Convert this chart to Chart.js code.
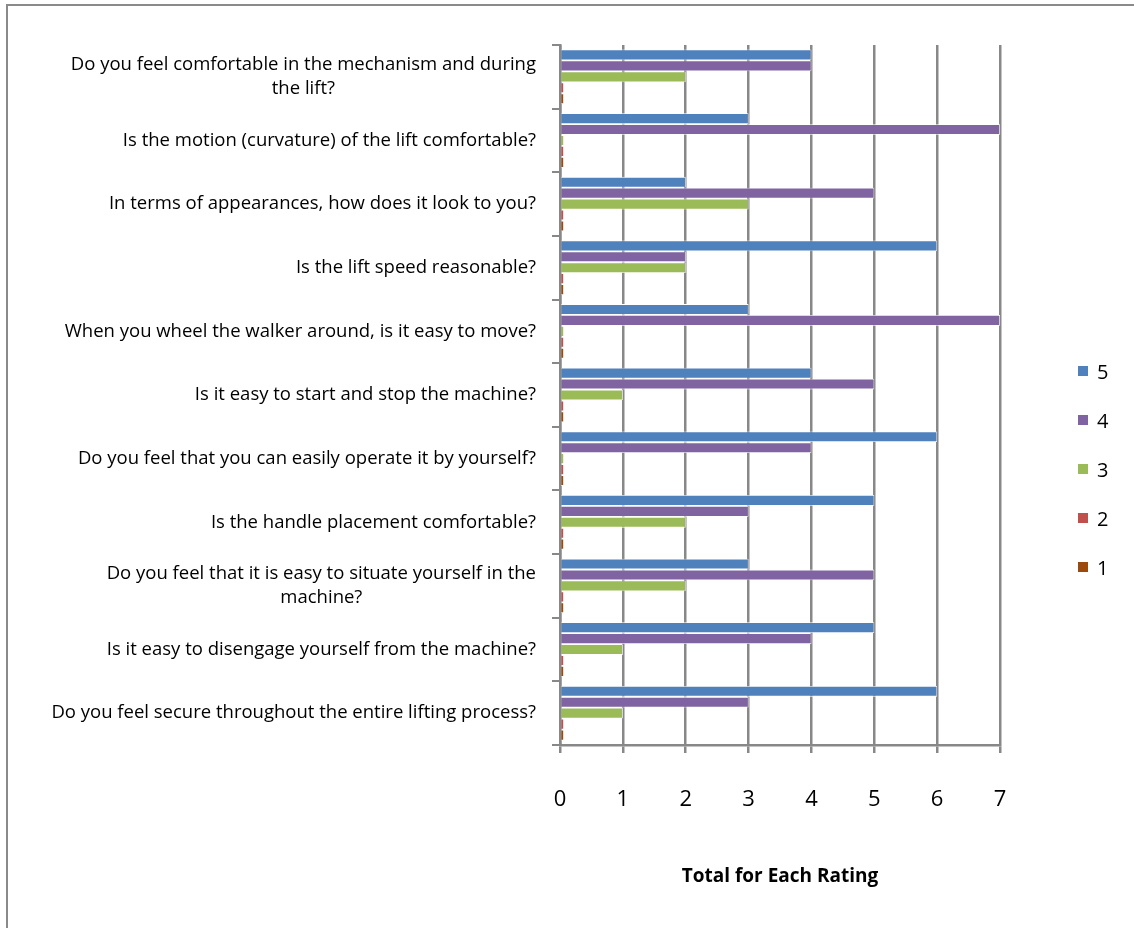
<!DOCTYPE html>
<html>
<head>
<meta charset="utf-8">
<script src="https://cdn.jsdelivr.net/npm/chart.js@4/dist/chart.umd.min.js"></script>
<style>
  body { margin: 0; background: #fff; }
  #wrap { position: relative; width: 1134px; height: 928px; overflow: hidden; }
  #frame { position: absolute; left: 6px; top: 4px; width: 1200px; height: 1000px;
           border-left: 2px solid #8a8a8a; border-top: 2px solid #8a8a8a; }
  #chart { position: absolute; left: 0; top: 0; }
  #legend { position: absolute; left: 1078px; top: 358px; font: 20px "Open Sans", sans-serif; color: #000; }
  #legend .item { height: 49px; display: flex; align-items: flex-start; }
  #legend .box { width: 10px; height: 10px; margin: 8px 9px 0 0; }
</style>
</head>
<body>
<div id="wrap">
  <div id="frame"></div>
  <canvas id="chart" width="1134" height="928"></canvas>
  <div id="legend"></div>
</div>
<script>
const questions = [
  ['Do you feel comfortable in the mechanism and during', 'the lift?'],
  ['Is the motion (curvature) of the lift comfortable?'],
  ['In terms of appearances, how does it look to you?'],
  ['Is the lift speed reasonable?'],
  ['When you wheel the walker around, is it easy to move?'],
  ['Is it easy to start and stop the machine?'],
  ['Do you feel that you can easily operate it by yourself?'],
  ['Is the handle placement comfortable?'],
  ['Do you feel that it is easy to situate yourself in the', 'machine?'],
  ['Is it easy to disengage yourself from the machine?'],
  ['Do you feel secure throughout the entire lifting process?']
];

const ratingNames = ['5', '4', '3', '2', '1'];
const ratingColors = ['#4f81bd', '#8064a2', '#9bbb59', '#c0504d', '#9c4a0c'];

const rating5 = [4, 3, 2, 6, 3, 4, 6, 5, 3, 5, 6];
const rating4 = [4, 7, 5, 2, 7, 5, 4, 3, 5, 4, 3];
const rating3 = [2, 0, 3, 2, 0, 1, 0, 2, 2, 1, 1];
const rating2 = [0, 0, 0, 0, 0, 0, 0, 0, 0, 0, 0];
const rating1 = [0, 0, 0, 0, 0, 0, 0, 0, 0, 0, 0];

const xMin = 0;
const xMax = 7;

const seriesValues = [rating5, rating4, rating3, rating2, rating1];

// question text drawn beside the y axis, lines centred within each block
const questionLabels = {
  id: 'questionLabels',
  afterDraw(chart) {
    const { ctx } = chart;
    const yScale = chart.scales.y;
    const rightEdge = 536;
    const lineHeight = 24;
    ctx.save();
    ctx.font = '18.5px "Open Sans", sans-serif';
    ctx.fillStyle = '#000';
    ctx.textAlign = 'center';
    ctx.textBaseline = 'middle';
    questions.forEach((lines, i) => {
      const y = yScale.getPixelForValue(i);
      const maxWidth = Math.max(...lines.map(l => ctx.measureText(l).width));
      const cx = rightEdge - maxWidth / 2;
      lines.forEach((line, j) => {
        ctx.fillText(line, cx, y + (j - (lines.length - 1) / 2) * lineHeight);
      });
    });
    ctx.restore();
  }
};

const chart = new Chart(document.getElementById('chart'), {
  type: 'bar',
  data: {
    labels: questions,
    datasets: seriesValues.map((values, i) => ({
      label: ratingNames[i],
      data: values,
      backgroundColor: ratingColors[i],
      borderColor: '#ffffff',
      borderWidth: 0.8,
      minBarLength: 4,
      barPercentage: 0.98,
      categoryPercentage: 0.86
    }))
  },
  options: {
    indexAxis: 'y',
    responsive: false,
    animation: false,
    layout: {
      padding: { top: 45, right: 134, bottom: 0, left: 0 }
    },
    plugins: {
      legend: { display: false },
      tooltip: { enabled: false }
    },
    scales: {
      x: {
        min: xMin,
        max: xMax,
        afterFit(scale) { scale.height = 183; },
        ticks: {
          stepSize: 1,
          color: '#000',
          padding: 34,
          font: { family: 'Open Sans', size: 22 }
        },
        grid: {
          color: '#888888',
          lineWidth: 2.5,
          tickLength: 8
        },
        border: { color: '#888888', width: 2.5 },
        title: {
          display: true,
          text: 'Total for Each Rating',
          color: '#000',
          font: { family: 'Open Sans', size: 19, weight: 'bold' },
          padding: { top: 0, bottom: 40 }
        }
      },
      y: {
        afterFit(scale) { scale.width = 560; },
        ticks: { display: false },
        grid: {
          color: '#888888',
          lineWidth: 2,
          drawOnChartArea: false,
          tickLength: 8
        },
        border: { color: '#888888', width: 2.5 }
      }
    }
  },
  plugins: [questionLabels]
});

// legend list built from the datasets
const legendEl = document.getElementById('legend');
chart.data.datasets.forEach(ds => {
  const item = document.createElement('div');
  item.className = 'item';
  item.innerHTML = `<span class="box" style="background:${ds.backgroundColor}"></span><span>${ds.label}</span>`;
  legendEl.appendChild(item);
});
</script>
</body>
</html>
